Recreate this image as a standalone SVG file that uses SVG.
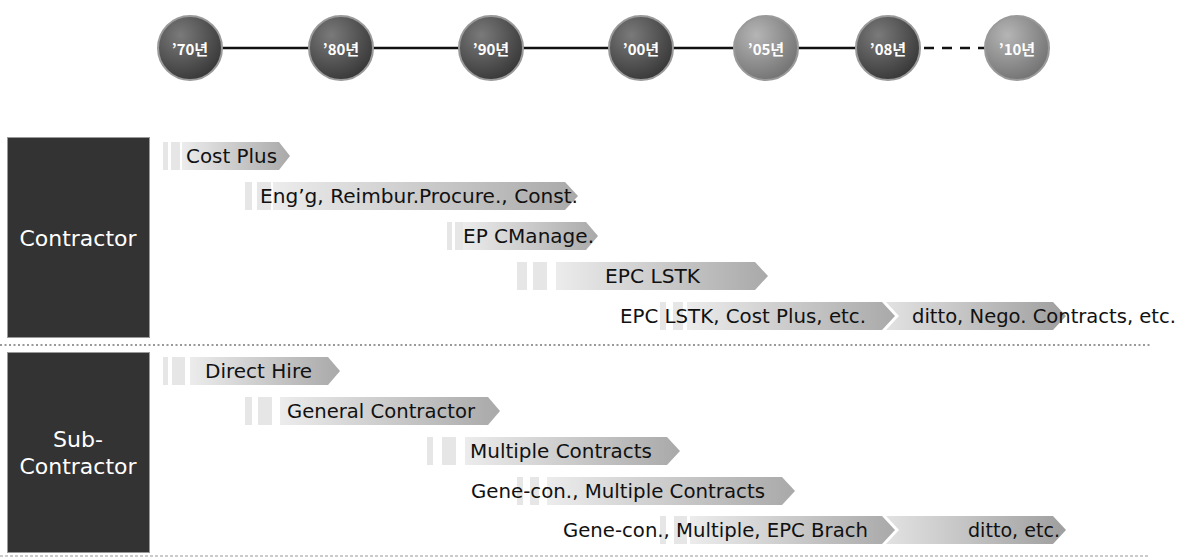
<svg xmlns="http://www.w3.org/2000/svg" width="1187" height="560" viewBox="0 0 1187 560">
<defs>
<radialGradient id="gDark" cx="0.35" cy="0.3" r="0.8">
<stop offset="0" stop-color="#7a7a7a"/><stop offset="1" stop-color="#333"/>
</radialGradient>
<radialGradient id="gLight" cx="0.35" cy="0.3" r="0.8">
<stop offset="0" stop-color="#b5b5b5"/><stop offset="1" stop-color="#6e6e6e"/>
</radialGradient>
<linearGradient id="gBar" x1="0" y1="0" x2="1" y2="0">
<stop offset="0" stop-color="#ececec"/><stop offset="1" stop-color="#a9a9a9"/>
</linearGradient>
<linearGradient id="gBar2" x1="0" y1="0" x2="1" y2="0">
<stop offset="0" stop-color="#e2e2e2"/><stop offset="1" stop-color="#9e9e9e"/>
</linearGradient>
</defs>
<style>
.yr{font-family:"Noto Sans CJK KR","DejaVu Sans",sans-serif;font-weight:bold;font-size:15px;fill:#fff;text-anchor:middle;dominant-baseline:central}
.rim{stroke:#9a9a9a;stroke-width:2}
.tl{stroke:#111;stroke-width:2.5}
.box{fill:#333;stroke:#9a9a9a;stroke-width:1}
.bt{font-family:"DejaVu Sans",sans-serif;font-size:21px;fill:#fff;text-anchor:middle;dominant-baseline:central}
.st{fill:#e6e6e6}
.bar{fill:url(#gBar)}
.bar2{fill:url(#gBar2)}
.lb{font-family:"DejaVu Sans",sans-serif;font-size:20px;fill:#111;dominant-baseline:central}
</style>
<g id="connectors">
<line class="tl" x1="190" y1="48" x2="888" y2="48"/>
<line class="tl" x1="888" y1="48" x2="1017" y2="48" stroke-dasharray="10 8"/>
<line x1="0" y1="345" x2="1150" y2="345" stroke="#999" stroke-width="2" stroke-dasharray="2 2.5"/>
<line x1="0" y1="556" x2="1150" y2="556" stroke="#bbb" stroke-width="1.5" stroke-dasharray="3 2"/>
</g>
<g id="y70"><circle class="rim" cx="190" cy="48" r="32" fill="url(#gDark)"/><text class="yr" x="190" y="48">’70년</text></g>
<g id="y80"><circle class="rim" cx="341" cy="48" r="32" fill="url(#gDark)"/><text class="yr" x="341" y="48">’80년</text></g>
<g id="y90"><circle class="rim" cx="491" cy="48" r="32" fill="url(#gDark)"/><text class="yr" x="491" y="48">’90년</text></g>
<g id="y00"><circle class="rim" cx="641" cy="48" r="32" fill="url(#gDark)"/><text class="yr" x="641" y="48">’00년</text></g>
<g id="y05"><circle class="rim" cx="766" cy="48" r="32" fill="url(#gLight)"/><text class="yr" x="766" y="48">’05년</text></g>
<g id="y08"><circle class="rim" cx="888" cy="48" r="32" fill="url(#gDark)"/><text class="yr" x="888" y="48">’08년</text></g>
<g id="y10"><circle class="rim" cx="1017" cy="48" r="32" fill="url(#gLight)"/><text class="yr" x="1017" y="48">’10년</text></g>

<g id="contractor"><rect class="box" x="7.5" y="137.5" width="142" height="200"/><text class="bt" x="78" y="239" textLength="117" lengthAdjust="spacingAndGlyphs">Contractor</text></g>
<g id="subcontractor"><rect class="box" x="7.5" y="352.5" width="142" height="200"/><text class="bt" x="78" y="440" textLength="50" lengthAdjust="spacingAndGlyphs">Sub-</text><text class="bt" x="78" y="467" textLength="117" lengthAdjust="spacingAndGlyphs">Contractor</text></g>

<g id="costplus"><rect class="st" x="163" y="142" width="5" height="28"/><rect class="st" x="171" y="142" width="9" height="28"/><path class="bar" d="M182 142H279L290 156L279 170H182Z"/><text class="lb" x="186" y="156" textLength="91" lengthAdjust="spacingAndGlyphs">Cost Plus</text></g>
<g id="engg"><rect class="st" x="245" y="182" width="7" height="28"/><rect class="st" x="257" y="182" width="14" height="28"/><path class="bar" d="M273 182H565L578 196L565 210H273Z"/><text class="lb" x="260" y="196" textLength="318" lengthAdjust="spacingAndGlyphs">Eng’g, Reimbur.Procure.,  Const.</text></g>
<g id="epcm"><rect class="st" x="447" y="222" width="5" height="28"/><rect class="st" x="455" y="222" width="8" height="28"/><path class="bar" d="M463 222H586L598 236L586 250H463Z"/><text class="lb" x="463" y="236" textLength="131" lengthAdjust="spacingAndGlyphs">EP CManage.</text></g>
<g id="epclstk"><rect class="st" x="517" y="262" width="10" height="28"/><rect class="st" x="533" y="262" width="14" height="28"/><path class="bar" d="M556 262H755L768 276L755 290H556Z"/><text class="lb" x="605" y="276" textLength="95" lengthAdjust="spacingAndGlyphs">EPC LSTK</text></g>
<g id="epclstk2"><rect class="st" x="660" y="302" width="6" height="28"/><rect class="st" x="673" y="302" width="10" height="28"/><path class="bar" d="M687 302H882L895 316L882 330H687Z"/><text class="lb" x="620" y="316" textLength="246" lengthAdjust="spacingAndGlyphs">EPC LSTK, Cost Plus, etc.</text></g>
<g id="ditto1"><path class="bar2" d="M886 302H1053L1066 316L1053 330H886L899 316Z"/><text class="lb" x="912" y="316" textLength="264" lengthAdjust="spacingAndGlyphs">ditto, Nego. Contracts, etc.</text></g>

<g id="directhire"><rect class="st" x="163" y="357" width="5" height="28"/><rect class="st" x="172" y="357" width="13" height="28"/><path class="bar" d="M190 357H328L340 371L328 385H190Z"/><text class="lb" x="205" y="371" textLength="107" lengthAdjust="spacingAndGlyphs">Direct Hire</text></g>
<g id="gencon"><rect class="st" x="245" y="397" width="7" height="28"/><rect class="st" x="258" y="397" width="14" height="28"/><path class="bar" d="M280 397H488L500 411L488 425H280Z"/><text class="lb" x="287" y="411" textLength="188" lengthAdjust="spacingAndGlyphs">General Contractor</text></g>
<g id="multi"><rect class="st" x="427" y="437" width="6" height="28"/><rect class="st" x="442" y="437" width="14" height="28"/><path class="bar" d="M465 437H667L680 451L667 465H465Z"/><text class="lb" x="470" y="451" textLength="182" lengthAdjust="spacingAndGlyphs">Multiple Contracts</text></g>
<g id="genemulti"><rect class="st" x="517" y="477" width="6" height="28"/><rect class="st" x="530" y="477" width="9" height="28"/><path class="bar" d="M547 477H782L795 491L782 505H547Z"/><text class="lb" x="471" y="491" textLength="294" lengthAdjust="spacingAndGlyphs">Gene-con., Multiple Contracts</text></g>
<g id="geneepc"><rect class="st" x="660" y="516" width="6" height="28"/><rect class="st" x="674" y="516" width="13" height="28"/><path class="bar" d="M690 516H882L895 530L882 544H690Z"/><text class="lb" x="563" y="530" textLength="305" lengthAdjust="spacingAndGlyphs">Gene-con., Multiple, EPC Brach</text></g>
<g id="ditto2"><path class="bar2" d="M886 516H1053L1066 530L1053 544H886L899 530Z"/><text class="lb" x="968" y="530" textLength="92" lengthAdjust="spacingAndGlyphs">ditto, etc.</text></g>
</svg>
